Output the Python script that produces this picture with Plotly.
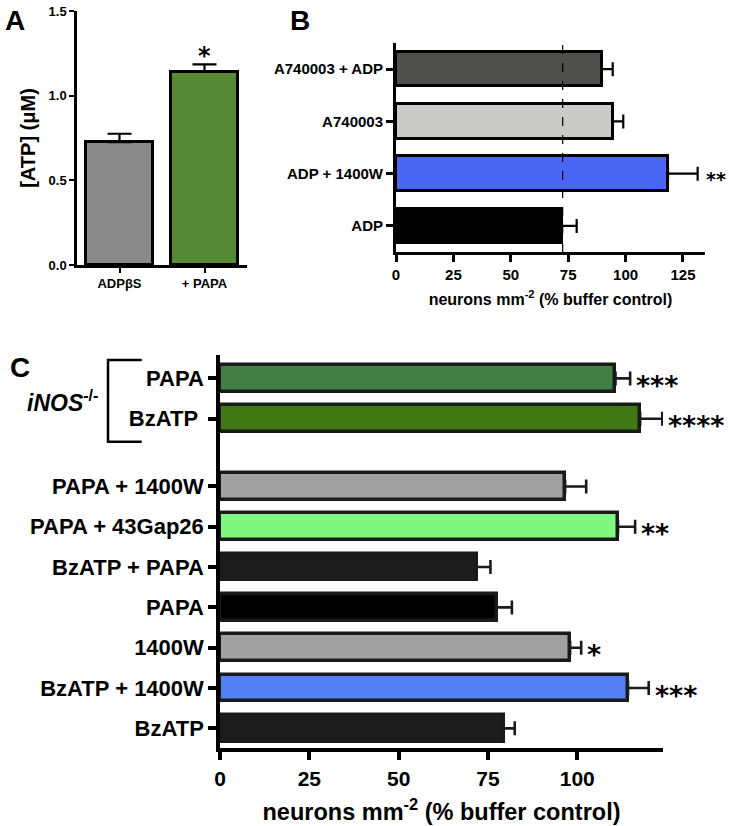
import plotly.graph_objects as go

W, H = 729, 826

# ---------------- data ----------------
a_labels = ["ADPβS", "+ PAPA"]
a_values = [0.725, 1.14]
a_errors = [0.05, 0.045]
a_colors = ["#8a8a8a", "#558833"]
a_sig = ["", "*"]

b_labels = ["ADP", "ADP + 1400W", "A740003", "A740003 + ADP"]
b_values = [72.3, 118.5, 94.5, 89.6]
b_errors = [6.4, 12.9, 4.5, 4.8]
b_colors = ["#000000", "#4a66f5", "#cacac8", "#4f504c"]
b_sig = ["", "**", "", ""]
b_ref = 72.6

c_labels = ["BzATP", "BzATP + 1400W", "1400W", "PAPA", "BzATP + PAPA",
            "PAPA + 43Gap26", "PAPA + 1400W", "BzATP ", "PAPA"]
c_values = [79.4, 114.2, 98.0, 77.4, 71.8, 111.4, 96.6, 117.6, 110.7]
c_errors = [3.1, 5.8, 3.1, 4.3, 3.9, 4.8, 5.9, 6.2, 4.1]
c_colors = ["#1c1c1c", "#5580f5", "#a0a0a0", "#000000", "#1c1c1c",
            "#80f880", "#a0a0a0", "#417a15", "#437f45"]
c_sig = ["", "***", "*", "", "", "**", "", "****", "***"]
c_knockout = [False, False, False, False, False, False, False, True, True]

GAP = 0.68
c_pos = [i + (GAP if k else 0) for i, k in enumerate(c_knockout)]


def px_x(p):
    return p / W


def px_y(p):
    return 1 - p / H


fig = go.Figure()

FONT = "Liberation Sans, Arial, sans-serif"
STAR = "DejaVu Sans, sans-serif"

# ---------------- Panel A ----------------
fig.add_trace(go.Bar(
    x=a_labels, y=a_values, marker=dict(color=a_colors, line=dict(color="#000", width=3)),
    width=0.79,
    error_y=dict(type="data", symmetric=False, array=a_errors, arrayminus=[0] * len(a_errors),
                 color="#000", thickness=2.2, width=12),
    xaxis="x", yaxis="y", showlegend=False))

# ---------------- Panel B ----------------
fig.add_trace(go.Bar(
    y=b_labels, x=b_values, orientation="h",
    marker=dict(color=b_colors, line=dict(color="#000", width=3)),
    width=0.66,
    error_x=dict(type="data", symmetric=False, array=b_errors, arrayminus=[0] * len(b_errors),
                 color="#000", thickness=2.2, width=7),
    xaxis="x2", yaxis="y2", showlegend=False))

# ---------------- Panel C ----------------
fig.add_trace(go.Bar(
    y=c_pos, x=c_values, orientation="h",
    marker=dict(color=c_colors, line=dict(color="#1a1a1a", width=3.5)),
    width=0.66,
    error_x=dict(type="data", symmetric=False, array=c_errors, arrayminus=[0] * len(c_errors),
                 color="#1a1a1a", thickness=2.6, width=7),
    xaxis="x3", yaxis="y3", showlegend=False))

axis_common = dict(showgrid=False, zeroline=False, showline=True, linecolor="#000",
                   ticks="outside", tickcolor="#000", automargin=False)

fig.update_layout(
    template="none",
    width=W, height=H, margin=dict(l=0, r=0, t=0, b=0),
    paper_bgcolor="white", plot_bgcolor="white",
    font=dict(family=FONT, color="#000"),
    bargap=0,
    # Panel A
    xaxis=dict(domain=[px_x(77), px_x(247)], anchor="y", range=[-0.5, 1.5],
               linewidth=2.5, ticklen=5, tickwidth=2,
               tickfont=dict(size=13, weight="bold"), **axis_common),
    yaxis=dict(domain=[px_y(265), px_y(11)], anchor="x", range=[0, 1.5],
               tickvals=[0, 0.5, 1.0, 1.5], tickformat=".1f",
               linewidth=2.5, ticklen=5, tickwidth=2,
               tickfont=dict(size=13, weight="bold"),
               title=dict(text="[ATP] (μM)", font=dict(size=20, weight="bold"), standoff=8),
               **axis_common),
    # Panel B
    xaxis2=dict(domain=[px_x(396), px_x(705)], anchor="y2", range=[0, 134.6],
                tickvals=[0, 25, 50, 75, 100, 125],
                linewidth=3, ticklen=7, tickwidth=3,
                tickfont=dict(size=15, weight="bold"),
                title=dict(text="neurons mm<sup>-2</sup> (% buffer control)",
                           font=dict(size=16, weight="bold"), standoff=12),
                **axis_common),
    yaxis2=dict(domain=[px_y(252), px_y(43)], anchor="x2", range=[-0.5, 3.5],
                linewidth=3, ticklen=7, tickwidth=3,
                tickfont=dict(size=15, weight="bold"), **axis_common),
    # Panel C
    xaxis3=dict(domain=[px_x(220), px_x(663)], anchor="y3", range=[0, 124.0],
                tickvals=[0, 25, 50, 75, 100],
                linewidth=3.5, ticklen=9, tickwidth=3.5,
                tickfont=dict(size=21, weight="bold"),
                title=dict(text="neurons mm<sup>-2</sup> (% buffer control)",
                           font=dict(size=23.5, weight="bold"), standoff=16),
                **axis_common),
    yaxis3=dict(domain=[px_y(747.7), px_y(355)], anchor="x3", range=[-0.48, 9.26],
                tickvals=c_pos, ticktext=c_labels,
                linewidth=3.5, ticklen=8, tickwidth=3.5,
                tickfont=dict(size=22, weight="bold"), **axis_common),
)

# reference dashed line in B
fig.add_shape(type="line", xref="x2", yref="y2 domain", x0=b_ref, x1=b_ref, y0=0, y1=1,
              line=dict(color="#000", width=1.2, dash="dash"))

ann = []
# significance stars
for lab, v, e, s in zip(a_labels, a_values, a_errors, a_sig):
    if s:
        ann.append(dict(x=lab, y=v + e, xref="x", yref="y", text=s, showarrow=False,
                        yanchor="bottom", yshift=-8, font=dict(family=STAR, size=24, weight="bold")))
for lab, v, e, s in zip(b_labels, b_values, b_errors, b_sig):
    if s:
        ann.append(dict(x=v + e, y=lab, xref="x2", yref="y2", text=s, showarrow=False,
                        xanchor="left", xshift=6, yshift=-5,
                        font=dict(family=STAR, size=19, weight="bold")))
for p, v, e, s in zip(c_pos, c_values, c_errors, c_sig):
    if s:
        ann.append(dict(x=v + e, y=p, xref="x3", yref="y3", text=s, showarrow=False,
                        xanchor="left", xshift=4, yshift=-7,
                        font=dict(family=STAR, size=27, weight="bold")))

# panel letters
for letter, x, y in [("A", 3, 3), ("B", 288, 3), ("C", 8, 350)]:
    ann.append(dict(x=px_x(x), y=px_y(y), xref="paper", yref="paper", text=letter,
                    showarrow=False, xanchor="left", yanchor="top",
                    font=dict(size=28, weight="bold")))

# knockout group label
ann.append(dict(x=px_x(100), y=px_y(401), xref="paper", yref="paper",
                text="<i>iNOS</i><sup>-/-</sup>", showarrow=False, xanchor="right",
                yanchor="middle", font=dict(size=23, weight="bold")))
fig.update_layout(annotations=ann)

# bracket
fig.add_shape(type="path", xref="paper", yref="paper",
              path=f"M {px_x(141.7)},{px_y(360)} L {px_x(108)},{px_y(360)} "
                   f"L {px_x(108)},{px_y(441.7)} L {px_x(141.7)},{px_y(441.7)}",
              line=dict(color="#000", width=2.5))

fig.write_html("out.html", config={"displayModeBar": False},
               post_script="document.body.style.margin='0';document.body.style.padding='0';")
